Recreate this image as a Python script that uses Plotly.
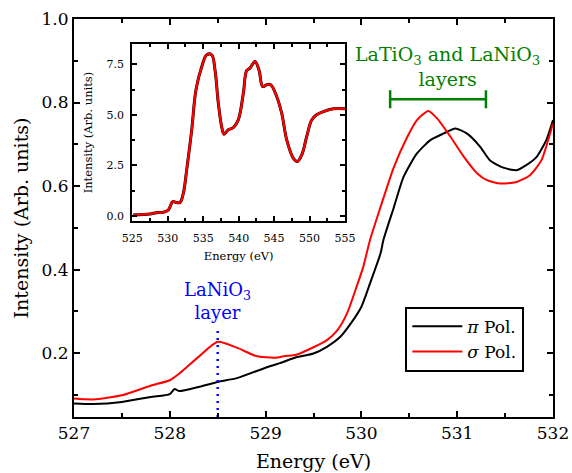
import plotly.graph_objects as go

# ---- main panel data ----
energy_pi = [527.0, 527.2, 527.5, 527.8, 528.0, 528.05, 528.1, 528.3, 528.5, 528.7, 529.0,
             529.15, 529.32, 529.5, 529.64, 529.78, 529.89, 530.0, 530.09, 530.2, 530.23,
             530.34, 530.44, 530.58, 530.72, 530.86, 530.98, 531.1, 531.24, 531.34, 531.48,
             531.62, 531.72, 531.83, 531.93, 532.0]
intensity_pi = [0.0795, 0.078, 0.083, 0.095, 0.102, 0.114, 0.109, 0.119, 0.131, 0.14, 0.165,
                0.176, 0.19, 0.199, 0.215, 0.239, 0.271, 0.311, 0.367, 0.439, 0.471,
                0.55, 0.622, 0.678, 0.71, 0.726, 0.738, 0.726, 0.694, 0.662, 0.644,
                0.638, 0.650, 0.67, 0.71, 0.758]

energy_sigma = [527.0, 527.2, 527.5, 527.8, 528.0, 528.1, 528.3, 528.5, 528.7, 528.9, 529.1,
                529.2, 529.32, 529.5, 529.64, 529.75, 529.85, 529.95, 530.02, 530.09, 530.2,
                530.34, 530.48, 530.58, 530.7, 530.79, 530.93, 531.07, 531.21, 531.31, 531.45,
                531.61, 531.76, 531.88, 531.97, 532.0]
intensity_sigma = [0.091, 0.089, 0.099, 0.122, 0.135, 0.151, 0.191, 0.227, 0.213, 0.193, 0.189,
                   0.193, 0.196, 0.214, 0.231, 0.255, 0.295, 0.359, 0.407, 0.471, 0.55,
                   0.646, 0.718, 0.758, 0.78, 0.762, 0.718, 0.67, 0.63, 0.614, 0.606,
                   0.609, 0.626, 0.662, 0.726, 0.75]

# ---- inset data ----
inset_energy = [525.1, 527.5, 528.4, 529.4, 530.1, 530.7, 531.26, 531.73, 532.2, 532.67, 533.38,
                533.98, 534.8, 535.5, 536.2, 536.66, 537.13, 537.6, 537.93, 538.54, 539.25,
                539.95, 540.66, 541.13, 541.6, 542.3, 542.86, 543.39, 543.95, 544.52, 545.36,
                546.07, 546.78, 547.7, 548.27, 548.9, 549.6, 550.3, 551.0, 551.94, 553.35, 555.0]
inset_intensity = [0.05, 0.1, 0.16, 0.18, 0.3, 0.71, 0.66, 0.66, 1.12, 2.28, 4.26,
                   6.24, 7.39, 7.97, 7.97, 7.23, 5.58, 4.42, 4.04, 4.26, 4.37,
                   4.75, 6.07, 7.19, 7.31, 7.64, 7.23, 6.4, 6.49, 6.49, 5.91,
                   5.08, 3.76, 2.86, 2.69, 3.02, 3.93, 4.75, 5.0, 5.16, 5.3, 5.3]

# annotations
lanio_energy = 528.5
lanio_line_y = [0.047, 0.253]
layers_range = [530.3, 531.3]
layers_y = 0.808

FONT = "DejaVu Serif"
fig = go.Figure()

fig.add_trace(go.Scatter(x=energy_pi, y=intensity_pi, mode="lines", name="<i>π</i> Pol.",
                         line=dict(color="black", width=2, shape="spline", smoothing=0.6)))
fig.add_trace(go.Scatter(x=energy_sigma, y=intensity_sigma, mode="lines", name="<i>σ</i> Pol.",
                         line=dict(color="red", width=2, shape="spline", smoothing=0.6)))

# blue dotted marker line
fig.add_trace(go.Scatter(x=[lanio_energy, lanio_energy], y=lanio_line_y, mode="lines",
                         line=dict(color="blue", width=2.5, dash="2px,5px"), showlegend=False))
# green range bar
center = (layers_range[0] + layers_range[1]) / 2
half = (layers_range[1] - layers_range[0]) / 2
fig.add_trace(go.Scatter(x=[center], y=[layers_y], mode="markers", marker=dict(size=0.1, color="green"),
                         error_x=dict(type="data", array=[half], color="green", thickness=2.5, width=9),
                         showlegend=False))

# inset
fig.add_trace(go.Scatter(x=inset_energy, y=inset_intensity, mode="lines", xaxis="x2", yaxis="y2",
                         line=dict(color="black", width=3, shape="spline"), showlegend=False))
fig.add_trace(go.Scatter(x=inset_energy, y=inset_intensity, mode="lines", xaxis="x2", yaxis="y2",
                         line=dict(color="red", width=2.3, shape="spline"), showlegend=False))

axis_common = dict(showline=True, linecolor="black", linewidth=2, mirror="ticks", ticks="inside",
                   tickcolor="black", tickwidth=2, showgrid=False, zeroline=False, automargin=False)

fig.update_layout(
    width=572, height=473,
    margin=dict(l=74, r=19, t=19, b=56),
    plot_bgcolor="white", paper_bgcolor="white",
    font=dict(family=FONT, color="black"),
    xaxis=dict(range=[527, 532], dtick=1, ticklen=6,
               minor=dict(dtick=0.5, ticks="inside", ticklen=4, tickcolor="black", tickwidth=1.5),
               tickfont=dict(size=17), title=dict(text="Energy (eV)", font=dict(size=19), standoff=12),
               **axis_common),
    yaxis=dict(range=[0.047, 1.0], tickvals=[0.2, 0.4, 0.6, 0.8, 1.0],
               ticktext=["0.2", "0.4", "0.6", "0.8", "1.0"], ticklen=6,
               minor=dict(tickvals=[0.1, 0.3, 0.5, 0.7, 0.9], ticks="inside", ticklen=4,
                          tickcolor="black", tickwidth=1.5),
               tickfont=dict(size=17), title=dict(text="Intensity (Arb. units)", font=dict(size=19), standoff=8),
               **axis_common),
    xaxis2=dict(domain=[0.1217, 0.5658], anchor="y2", range=[525, 555], dtick=5, ticklen=5,
                minor=dict(dtick=2.5, ticks="inside", ticklen=3, tickcolor="black", tickwidth=1.5),
                tickfont=dict(size=11), ticklabelstandoff=6,
                title=dict(text="Energy (eV)", font=dict(size=11.5), standoff=8),
                **axis_common),
    yaxis2=dict(domain=[0.4925, 0.937], anchor="x2", range=[-0.25, 8.5], tickvals=[0, 2.5, 5, 7.5],
                ticktext=["0.0", "2.5", "5.0", "7.5"], ticklen=5,
                minor=dict(tickvals=[1.25, 3.75, 6.25], ticks="inside", ticklen=3,
                           tickcolor="black", tickwidth=1.5),
                tickfont=dict(size=11), ticklabelstandoff=4,
                title=dict(text="Intensity (Arb. units)", font=dict(size=11.5), standoff=12),
                **axis_common),
    legend=dict(x=0.6917, y=0.277, xanchor="left", yanchor="top", bordercolor="black", borderwidth=2,
                bgcolor="white", font=dict(size=17, family=FONT), tracegroupgap=2, itemwidth=50),
    showlegend=True,
)

fig.add_annotation(x=lanio_energy, y=0.267, xref="x", yref="y", yanchor="bottom",
                   text="LaNiO<sub>3</sub><br>layer", showarrow=False,
                   font=dict(color="blue", size=18, family=FONT))
fig.add_annotation(x=center + 0.1, y=layers_y + 0.018, xref="x", yref="y", yanchor="bottom",
                   text="LaTiO<sub>3</sub> and LaNiO<sub>3</sub><br>layers", showarrow=False,
                   font=dict(color="green", size=19, family=FONT))

# remove the default page margin so the figure sits at the window's top-left corner
fig.write_html("out.html", config={"displayModeBar": False},
               post_script="document.body.style.margin='0';document.body.style.overflow='hidden';")
